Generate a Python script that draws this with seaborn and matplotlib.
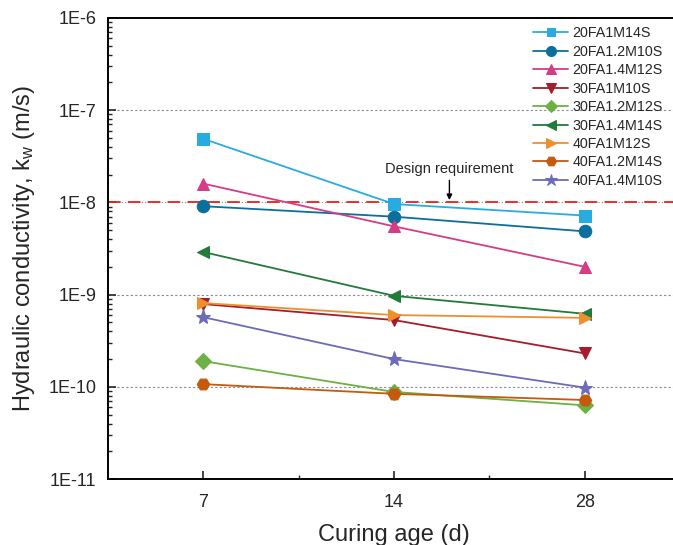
import numpy as np
import pandas as pd
import seaborn as sns
import matplotlib.pyplot as plt
from matplotlib.ticker import FixedLocator, LogLocator, NullFormatter

# Curing ages (categorical axis)
ages = ['7', '14', '28']

# Mixtures and their hydraulic conductivity (m/s) at 7, 14, 28 days
mixes = ['20FA1M14S', '20FA1.2M10S', '20FA1.4M12S',
         '30FA1M10S', '30FA1.2M12S', '30FA1.4M14S',
         '40FA1M12S', '40FA1.2M14S', '40FA1.4M10S']
k_20FA1M14S = [4.9e-8, 9.6e-9, 7.2e-9]
k_20FA12M10S = [9.1e-9, 7.0e-9, 4.85e-9]
k_20FA14M12S = [1.6e-8, 5.5e-9, 2.0e-9]
k_30FA1M10S = [7.9e-10, 5.3e-10, 2.3e-10]
k_30FA12M12S = [1.9e-10, 8.8e-11, 6.3e-11]
k_30FA14M14S = [2.9e-9, 9.7e-10, 6.2e-10]
k_40FA1M12S = [8.1e-10, 6.0e-10, 5.6e-10]
k_40FA12M14S = [1.07e-10, 8.4e-11, 7.2e-11]
k_40FA14M10S = [5.7e-10, 2.0e-10, 9.8e-11]
all_k = [k_20FA1M14S, k_20FA12M10S, k_20FA14M12S, k_30FA1M10S, k_30FA12M12S,
         k_30FA14M14S, k_40FA1M12S, k_40FA12M14S, k_40FA14M10S]

design_limit = 1e-8

colors = ['#29abe2', '#0b6f9c', '#d63c86', '#a51d2d', '#6db045',
          '#237a3a', '#ee8f2e', '#c35a0c', '#6b6bb9']
markers = ['s', 'o', '^', 'v', 'D', '<', '>', 'H', '*']
msizes = [8, 9, 9, 9, 8, 9, 9, 9, 11]

rows = []
for name, vals in zip(mixes, all_k):
    for i, v in enumerate(vals):
        rows.append({'mix': name, 'pos': i, 'k': v})
df = pd.DataFrame(rows)

sns.set_style('white')
plt.rcParams['font.family'] = ['Liberation Sans', 'DejaVu Sans']
plt.rcParams['mathtext.fontset'] = 'custom'
plt.rcParams['mathtext.rm'] = 'Liberation Sans'
plt.rcParams['mathtext.it'] = 'Liberation Sans'

fig = plt.figure(figsize=(6.73, 5.45), dpi=100)
ax = fig.add_axes([0.16, 0.121, 0.851, 0.846])

ax.set_yscale('log')
ax.set_ylim(1e-11, 1e-6)
ax.set_xlim(-0.5, 2.5)

# gridlines at decades
for d in [1e-7, 1e-9, 1e-10]:
    ax.axhline(d, color='#8a8a9a', lw=0.8, ls=(0, (2, 2)), zorder=0)
ax.axhline(design_limit, color='#888888', lw=0.8, ls=(0, (1, 2)), zorder=0)
ax.axhline(design_limit, color='#e8211d', lw=1.3, ls=(0, (7, 4)), zorder=1)

for name, c, m, s in zip(mixes, colors, markers, msizes):
    sub = df[df['mix'] == name]
    sns.lineplot(data=sub, x='pos', y='k', ax=ax, color=c, marker=m,
                 markersize=s, markeredgecolor=c, linewidth=1.3, label=name,
                 zorder=3)

ax.annotate('Design requirement', xy=(1.29, design_limit * 1.06),
            xytext=(1.29, 1.95e-8), ha='center', va='bottom', fontsize=10.5,
            arrowprops=dict(arrowstyle='-|>', color='black', lw=1,
                            mutation_scale=8, shrinkA=1, shrinkB=0))

ax.xaxis.set_major_locator(FixedLocator([0, 1, 2]))
ax.set_xticklabels(ages)
ax.xaxis.set_minor_locator(FixedLocator([0.5, 1.5]))
ax.yaxis.set_major_locator(FixedLocator([1e-11, 1e-10, 1e-9, 1e-8, 1e-7, 1e-6]))
ax.set_yticklabels(['1E-11', '1E-10', '1E-9', '1E-8', '1E-7', '1E-6'])
ax.yaxis.set_minor_locator(LogLocator(base=10, subs=np.arange(2, 10)))
ax.yaxis.set_minor_formatter(NullFormatter())

ax.tick_params(axis='both', which='major', direction='in', length=6,
               width=1.2, labelsize=13, pad=8, left=True, bottom=True)
ax.tick_params(axis='x', which='major', pad=11)
ax.tick_params(axis='both', which='minor', direction='in', length=3,
               width=1, left=True, bottom=True)
for sp in ax.spines.values():
    sp.set_linewidth(1.4)
    sp.set_color('black')

ax.set_xlabel('Curing age (d)', fontsize=17, labelpad=9)
ax.set_ylabel('Hydraulic conductivity, k$_w$ (m/s)', fontsize=17, labelpad=8)

ax.legend(loc='upper left', bbox_to_anchor=(0.783, 0.962),
          bbox_transform=fig.transFigure, frameon=False, fontsize=10.3,
          handlelength=2.5, labelspacing=0.31, handletextpad=0.3,
          borderaxespad=0, markerscale=0.8)

fig.savefig('out.png', dpi=100)
